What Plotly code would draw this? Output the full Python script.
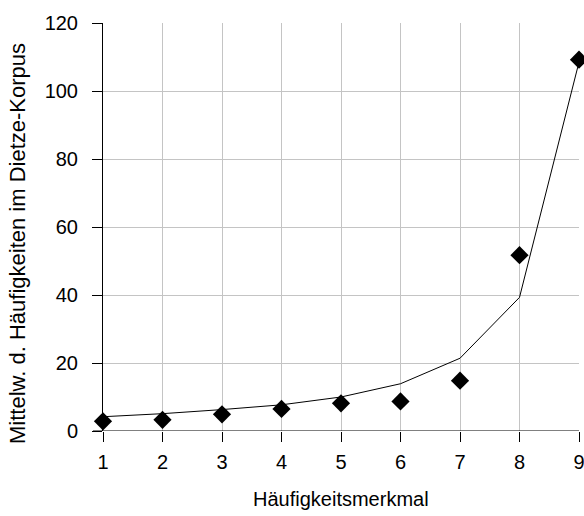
import plotly.graph_objects as go

x_vals = [1, 2, 3, 4, 5, 6, 7, 8, 9]
observed = [2.85, 3.3, 4.9, 6.5, 8.15, 8.7, 14.8, 51.7, 109.2]
fitted = [4.2, 5.1, 6.3, 7.7, 10.0, 13.9, 21.4, 39.3, 108.5]

x_title = "Häufigkeitsmerkmal"
y_title = "Mittelw. d. Häufigkeiten im Dietze-Korpus"
y_ticks = [0, 20, 40, 60, 80, 100, 120]

fig = go.Figure()
fig.add_trace(go.Scatter(x=x_vals, y=fitted, mode="lines",
                         line=dict(color="black", width=1), showlegend=False, cliponaxis=False))
fig.add_trace(go.Scatter(x=x_vals, y=observed, mode="markers",
                         marker=dict(symbol="diamond", size=14, color="black"),
                         showlegend=False, cliponaxis=False))

font_family = "Liberation Sans, Arial, sans-serif"
L, R, T, B = 103, 5, 23, 85
W, H = 584, 516
pw, ph = W - L - R, H - T - B

fig.update_layout(
    template="none",
    width=W, height=H,
    margin=dict(l=L, r=R, t=T, b=B, autoexpand=False),
    paper_bgcolor="white", plot_bgcolor="white",
    font=dict(family=font_family, color="black", size=20),
    xaxis=dict(range=[1, 9], tickvals=x_vals, showgrid=True, gridcolor="#c4c4c4", gridwidth=1,
               ticks="outside", ticklen=10, tickcolor="black", tickwidth=1, showline=False,
               zeroline=False, automargin=False,
               tickfont=dict(size=20), ticklabelstandoff=3, ticklabeloverflow="allow"),
    yaxis=dict(range=[0, 120], tickvals=y_ticks, showgrid=True, gridcolor="#c4c4c4", gridwidth=1,
               ticks="outside", ticklen=10, tickcolor="black", tickwidth=1, showline=True,
               linecolor="black", linewidth=1, zeroline=False, automargin=False,
               tickfont=dict(size=20), ticklabelstandoff=10, ticklabeloverflow="allow"),
    shapes=[dict(type="line", xref="paper", yref="y", x0=-10 / pw, x1=1, y0=0, y1=0,
                 line=dict(color="black", width=1))],
    annotations=[
        dict(text=x_title, xref="paper", yref="paper", x=(341 - L) / pw, y=(H - B - 499) / ph,
             xanchor="center", yanchor="middle", showarrow=False, font=dict(size=20)),
        dict(text=y_title, xref="paper", yref="paper", x=(17 - L) / pw, y=(H - B - 244) / ph,
             xanchor="center", yanchor="middle", textangle=-90, showarrow=False,
             font=dict(size=22)),
    ],
)

fig.write_html("out.html")
